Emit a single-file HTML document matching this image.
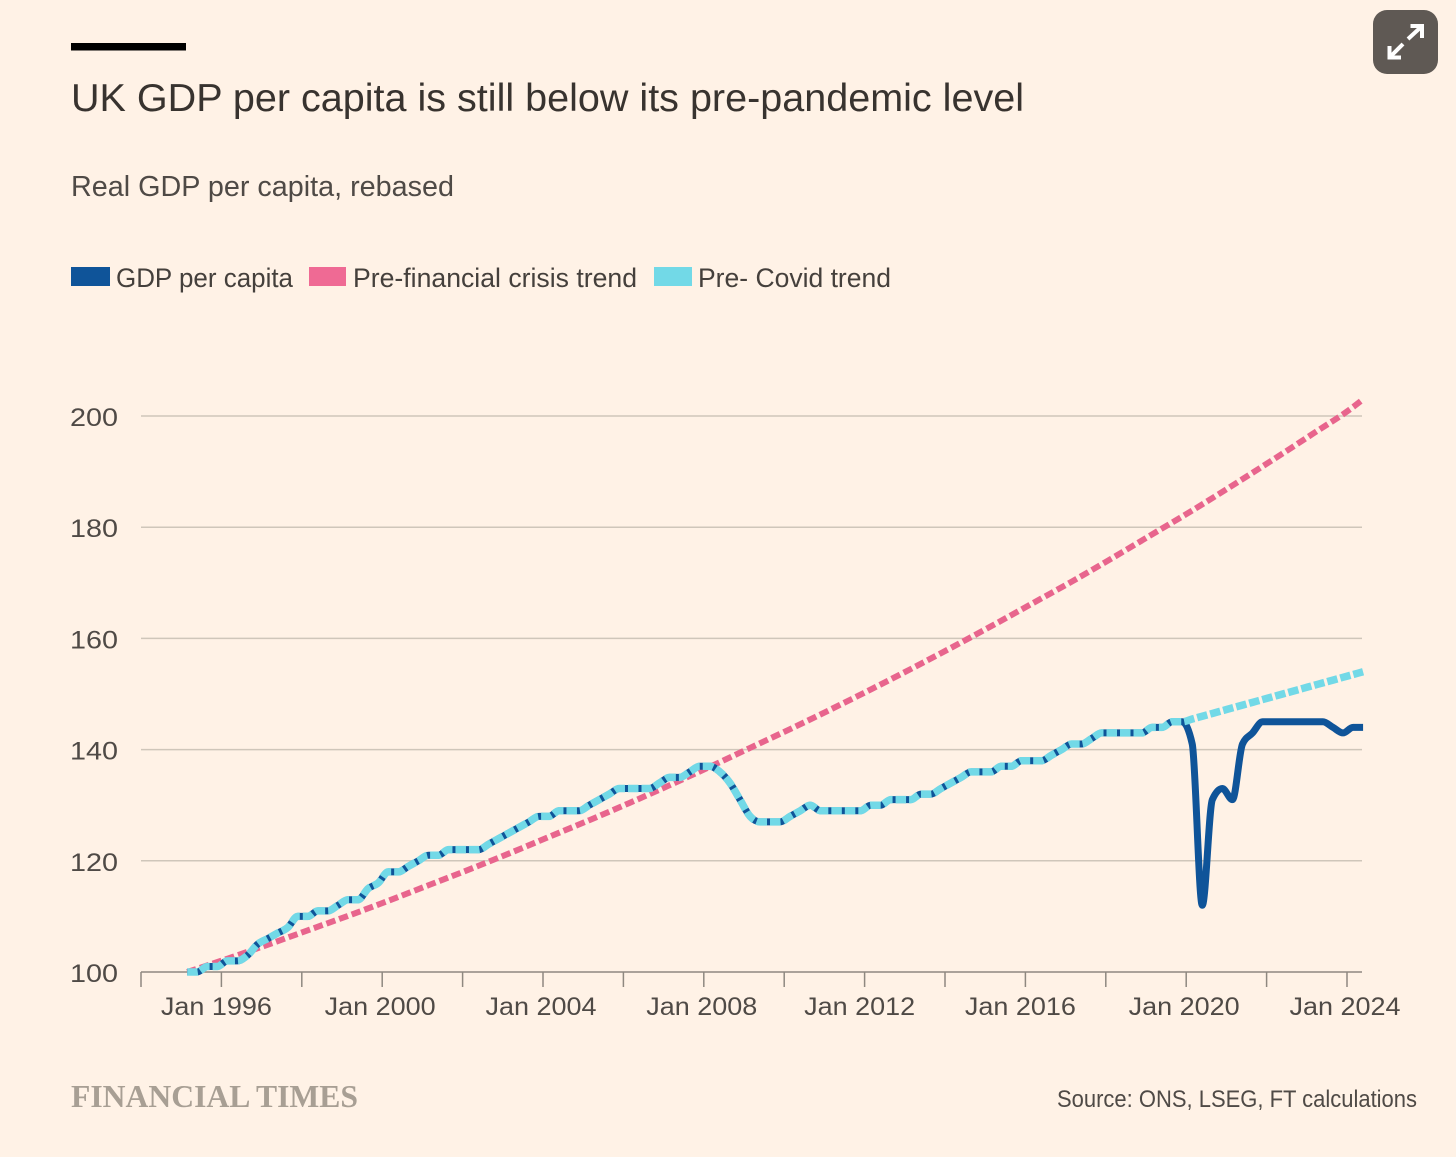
<!DOCTYPE html>
<html lang="en">
<head>
<meta charset="utf-8">
<title>UK GDP per capita is still below its pre-pandemic level</title>
<style>
html,body{margin:0;padding:0;background:#fff2e6;}
svg{display:block;}
text{font-family:"Liberation Sans",sans-serif;}
</style>
</head>
<body>
<svg id="chart" xmlns="http://www.w3.org/2000/svg" width="1456" height="1157" viewBox="0 0 1456 1157">
  <rect x="0" y="0" width="1456" height="1157" fill="#fff2e6"/>
  <rect x="71" y="43" width="115" height="7.5" fill="#000"/>
  <text x="71" y="111" font-size="39" fill="#38332f" textLength="953" lengthAdjust="spacingAndGlyphs">UK GDP per capita is still below its pre-pandemic level</text>
  <text x="71" y="196" font-size="29" fill="#4f4a46" textLength="383" lengthAdjust="spacingAndGlyphs">Real GDP per capita, rebased</text>

  <g>
    <rect x="71" y="267" width="39" height="19" fill="#0f5499"/>
    <text x="116" y="287" font-size="27" fill="#45403c" textLength="177" lengthAdjust="spacingAndGlyphs">GDP per capita</text>
    <rect x="309" y="267" width="37" height="19" fill="#ef6a94"/>
    <text x="353" y="287" font-size="27" fill="#45403c" textLength="284" lengthAdjust="spacingAndGlyphs">Pre-financial crisis trend</text>
    <rect x="654" y="267" width="38" height="19" fill="#72d9e7"/>
    <text x="698" y="287" font-size="27" fill="#45403c" textLength="193" lengthAdjust="spacingAndGlyphs">Pre- Covid trend</text>
  </g>

  <g id="grid"></g>
  <g id="yLabels"></g>
  <g id="xAxis"></g>
  <g id="series"></g>

  <text x="71" y="1107" font-size="32" font-weight="bold" fill="#a89f94" textLength="287" lengthAdjust="spacingAndGlyphs" style="font-family:'Liberation Serif',serif">FINANCIAL TIMES</text>
  <text x="1057" y="1107" font-size="24" fill="#4f4a46" textLength="360" lengthAdjust="spacingAndGlyphs">Source: ONS, LSEG, FT calculations</text>

  <g>
    <rect x="1373" y="10" width="65" height="64" rx="14" fill="#5f5954"/>
    <g fill="none" stroke="#fff" stroke-width="4">
      <path d="M1408 39L1421 27M1410.5 26H1422V38"/>
      <path d="M1403 44L1390 57M1389.5 46V57.5H1401"/>
    </g>
  </g>
</svg>
<script>
const yTicks = [100, 120, 140, 160, 180, 200];
const xTickYears = [1994, 1996, 1998, 2000, 2002, 2004, 2006, 2008, 2010, 2012, 2014, 2016, 2018, 2020, 2022, 2024];
const xLabelYears = [1996, 2000, 2004, 2008, 2012, 2016, 2020, 2024];
const xTickLabels = ['Jan 1996', 'Jan 2000', 'Jan 2004', 'Jan 2008', 'Jan 2012', 'Jan 2016', 'Jan 2020', 'Jan 2024'];

const firstQuarterYear = 1995.15;

const gdpPerCapita = [
  100,100,101,101,102,102,103,105,106,107,108,110,110,111,111,112,113,113,115,116,
  118,118,119,120,121,121,122,122,122,122,123,124,125,126,127,
  128,128,129,129,129,130,131,132,133,133,133,133,134,135,135,136,137,137,136,134,
  131,128,127,127,127,128,129,130,129,129,129,129,129,130,130,131,131,
  131,132,132,133,134,135,136,136,136,137,137,138,138,138,139,140,141,141,142,143,
  143,143,143,143,144,144,145,145,
  141,112,131,133,131,141,143,145,145,145,145,145,145,145,144,143,144,144
];

const preCovidTrend = [
  100,100,101,101,102,102,103,105,106,107,108,110,110,111,111,112,113,113,115,116,
  118,118,119,120,121,121,122,122,122,122,123,124,125,126,127,
  128,128,129,129,129,130,131,132,133,133,133,133,134,135,135,136,137,137,136,134,
  131,128,127,127,127,128,129,130,129,129,129,129,129,130,130,131,131,
  131,132,132,133,134,135,136,136,136,137,137,138,138,138,139,140,141,141,142,143,
  143,143,143,143,144,144,145,145,
  145.5,146,146.5,147,147.5,148,148.5,149,149.5,150,150.5,151,151.5,152,152.5,153,153.5,154
];

const preCrisisYears = [1995.15,1996.15,1997.15,1998.15,1999.15,2000.15,2001.15,2002.15,2003.15,2004.15,2005.15,2006.15,2007.15,2008.15,2009.15,2010.15,2011.15,2012.15,2013.15,2014.15,2015.15,2016.15,2017.15,2018.15,2019.15,2020.15,2021.15,2022.15,2023.15,2024.15,2024.4];
const preCrisisTrend = [100,102.4,104.9,107.5,110.1,112.8,115.6,118.4,121.3,124.3,127.3,130.4,133.6,136.9,140.3,143.7,147.2,150.8,154.5,158.3,162.2,166.2,170.2,174.4,178.7,183,187.5,192.1,196.8,201.6,203];

const NS = 'http://www.w3.org/2000/svg';
function xScale(year) { return 141 + (year - 1994) * 40.2; }
function yScale(v) { return 972 - (v - 100) * 5.56; }

function make(tag, attrs, parent) {
  const el = document.createElementNS(NS, tag);
  for (const k in attrs) el.setAttribute(k, attrs[k]);
  parent.appendChild(el);
  return el;
}

/* monotone cubic interpolation (same shape as d3.curveMonotoneX) */
function monotonePath(pts) {
  const n = pts.length, m = new Array(n), s = [];
  for (let i = 0; i < n - 1; i++) s.push((pts[i + 1][1] - pts[i][1]) / (pts[i + 1][0] - pts[i][0]));
  m[0] = s[0]; m[n - 1] = s[n - 2];
  for (let i = 1; i < n - 1; i++) {
    if (s[i - 1] * s[i] <= 0) m[i] = 0;
    else {
      const h0 = pts[i][0] - pts[i - 1][0], h1 = pts[i + 1][0] - pts[i][0];
      m[i] = Math.sign(s[i]) * Math.min(Math.abs(s[i - 1]), Math.abs(s[i]), 0.5 * Math.abs((h0 * s[i] + h1 * s[i - 1]) / (h0 + h1))) * 2;
    }
  }
  let d = 'M' + pts[0][0].toFixed(2) + ' ' + pts[0][1].toFixed(2);
  for (let i = 0; i < n - 1; i++) {
    const h = (pts[i + 1][0] - pts[i][0]) / 3;
    d += 'C' + (pts[i][0] + h).toFixed(2) + ' ' + (pts[i][1] + m[i] * h).toFixed(2) + ' ' +
         (pts[i + 1][0] - h).toFixed(2) + ' ' + (pts[i + 1][1] - m[i + 1] * h).toFixed(2) + ' ' +
         pts[i + 1][0].toFixed(2) + ' ' + pts[i + 1][1].toFixed(2);
  }
  return d;
}

const grid = document.getElementById('grid');
const yLabels = document.getElementById('yLabels');
yTicks.forEach(function (t) {
  if (t !== 100) {
    const g = make('line', { x1: 141, x2: 1362, y1: yScale(t), y2: yScale(t), stroke: '#cfc6ba', 'stroke-width': 1.5 }, grid);
    
    
  }
  const lab = make('text', { x: 70, y: yScale(t) + 10, 'font-size': 25, fill: '#4f4a46', textLength: 48, lengthAdjust: 'spacingAndGlyphs' }, yLabels);
  lab.textContent = String(t);
  
  
});

const xAxis = document.getElementById('xAxis');
const baseline = make('line', { x1: 141, x2: 1362, y1: yScale(100), y2: yScale(100), stroke: '#8f8880', 'stroke-width': 1.5 }, xAxis);


xTickYears.forEach(function (yr) {
  const t = make('line', { x1: xScale(yr), x2: xScale(yr), y1: yScale(100), y2: 987, stroke: '#8f8880', 'stroke-width': 1.5 }, xAxis);
  
  
});
xLabelYears.forEach(function (yr, i) {
  const labelText = xTickLabels[i];
  const nudge = labelText.indexOf('1') >= 0 ? -60.5 : -57.5;
  const lab = make('text', { x: xScale(yr) + nudge, y: 1015, 'font-size': 25, fill: '#4f4a46', textLength: 111, lengthAdjust: 'spacingAndGlyphs' }, xAxis);
  lab.textContent = labelText;
  
  
});

const series = document.getElementById('series');
function quarterPoints(values) {
  return values.map(function (v, i) { return [xScale(firstQuarterYear + i * 0.25), yScale(v)]; });
}

const crisisPts = preCrisisTrend.map(function (v, i) { return [xScale(preCrisisYears[i]), yScale(v)]; });
const crisisLine = make('path', { d: monotonePath(crisisPts), fill: 'none', stroke: '#e8658d', 'stroke-width': 6, 'stroke-dasharray': '9.4 4' }, series);



const gdpLine = make('path', { d: monotonePath(quarterPoints(gdpPerCapita)), fill: 'none', stroke: '#0f5499', 'stroke-width': 7, 'stroke-linejoin': 'round' }, series);



const covidLine = make('path', { d: monotonePath(quarterPoints(preCovidTrend)), fill: 'none', stroke: '#72d9e7', 'stroke-width': 7.5, 'stroke-dasharray': '10.5 3' }, series);


</script>
</body>
</html>
